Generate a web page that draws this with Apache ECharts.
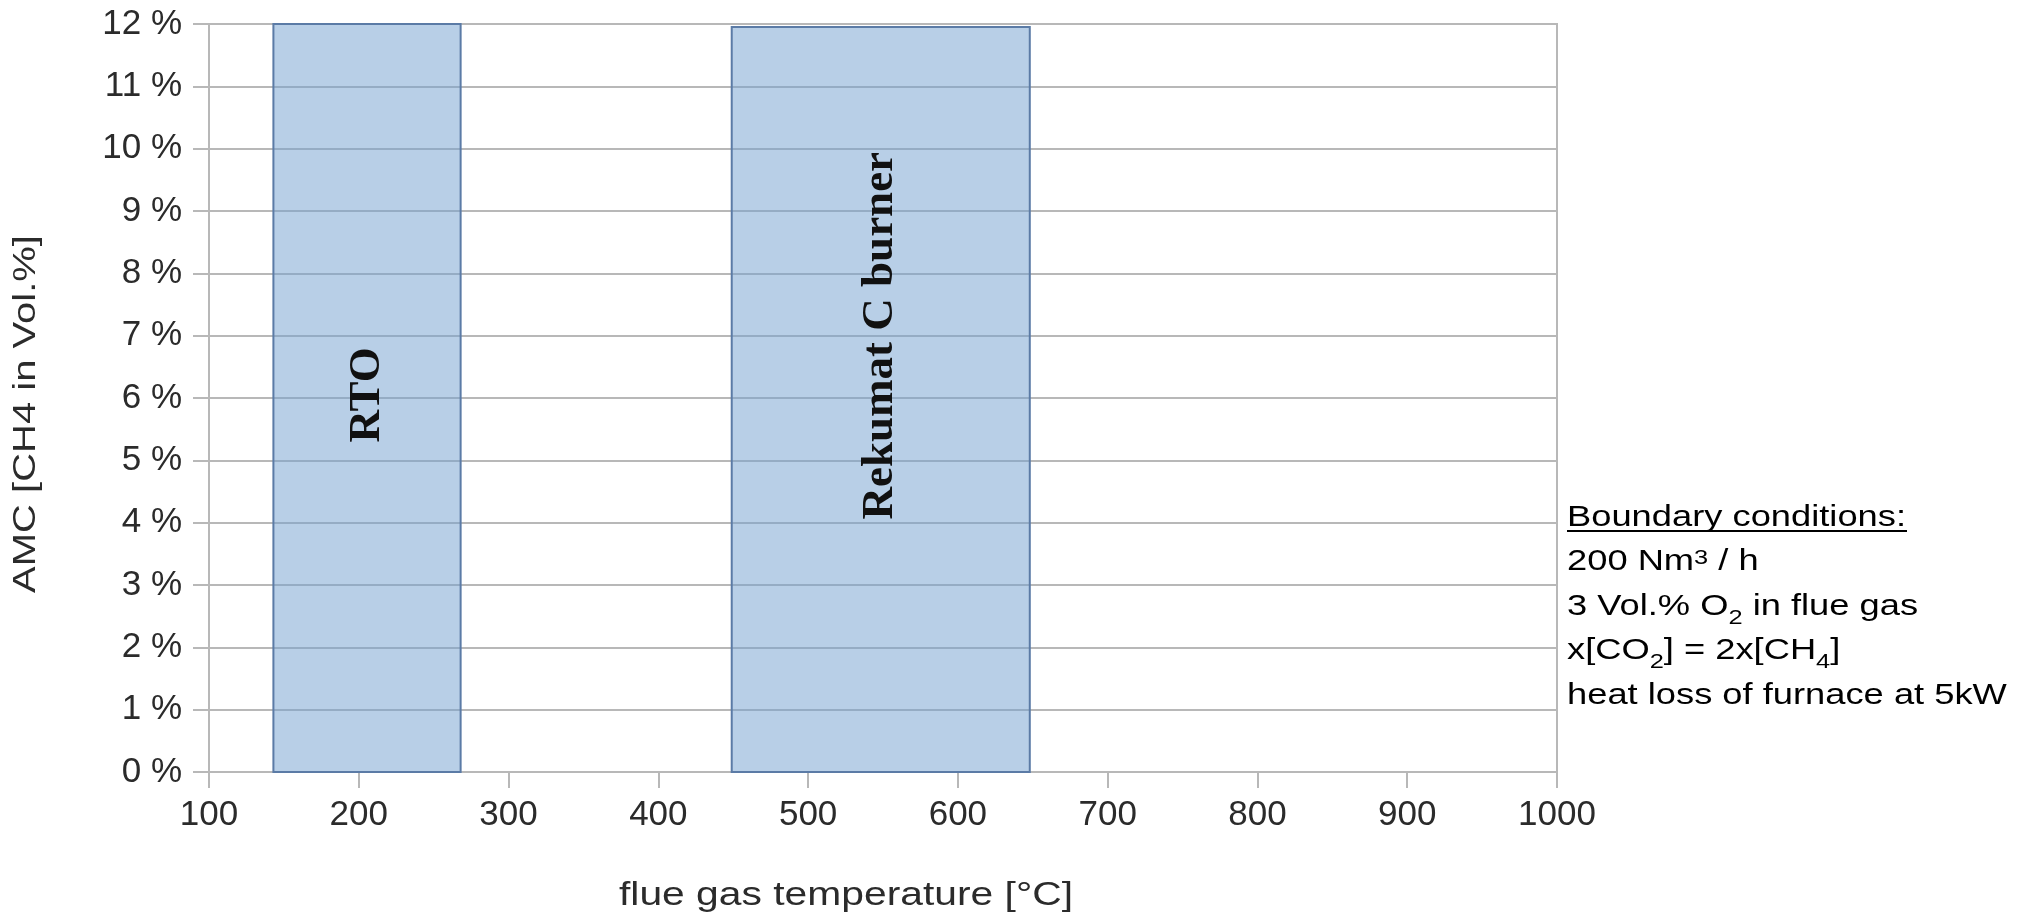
<!DOCTYPE html>
<html>
<head>
<meta charset="utf-8">
<script src="https://cdn.jsdelivr.net/npm/echarts@6/dist/echarts.min.js"></script>
<style>
html,body{margin:0;padding:0;background:#fff;}
#chart{width:2036px;height:916px;}
</style>
</head>
<body>
<div id="chart"></div>
<script>
// ---- data ----
const categories = ['RTO', 'Rekumat C burner'];
const xStart = [143, 449];       // flue gas temperature range start [°C]
const xEnd = [268, 648];         // flue gas temperature range end [°C]
const amcTop = [12, 11.95];      // AMC upper value [Vol.%]
const xTicks = [100, 200, 300, 400, 500, 600, 700, 800, 900, 1000];
const yTickLabels = ['0 %','1 %','2 %','3 %','4 %','5 %','6 %','7 %','8 %','9 %','10 %','11 %','12 %'];
const xAxisName = 'flue gas temperature [°C]';
const yAxisName = 'AMC [CH4 in Vol.%]';
const boundaryTitle = 'Boundary conditions:';

// ---- chart ----
const labelLevel = { 'RTO': 6.05, 'Rekumat C burner': 7.0 };
const gridColor = '#b8b8b8';
const textColor = '#2b2b2b';
const sans = 'Liberation Sans, Arial, sans-serif';

const chart = echarts.init(document.getElementById('chart'), null, { renderer: 'canvas' });

const seriesData = categories.map((c, i) => [xStart[i], xEnd[i], amcTop[i], c]);

const option = {
  backgroundColor: '#ffffff',
  animation: false,
  grid: {
    left: 209, right: 479, top: 24, bottom: 144,
    show: true, borderColor: gridColor, borderWidth: 2, backgroundColor: 'transparent'
  },
  xAxis: {
    type: 'value',
    min: xTicks[0], max: xTicks[xTicks.length - 1], interval: 100,
    axisLine: { show: true, lineStyle: { color: gridColor, width: 2 } },
    axisTick: { show: true, length: 16, lineStyle: { color: gridColor, width: 2 } },
    axisLabel: { fontFamily: sans, fontSize: 35, color: textColor, margin: 26,
      formatter: v => (xTicks.indexOf(v) >= 0 ? String(v) : '') },
    splitLine: { show: false }
  },
  yAxis: {
    type: 'value',
    min: 0, max: 12, interval: 1,
    axisLine: { show: true, lineStyle: { color: gridColor, width: 2 } },
    axisTick: { show: true, length: 16, lineStyle: { color: gridColor, width: 2 } },
    axisLabel: { fontFamily: sans, fontSize: 35, color: textColor, margin: 27,
      formatter: v => yTickLabels[Math.round(v)] },
    splitLine: { show: true, lineStyle: { color: gridColor, width: 2 } }
  },
  series: [{
    type: 'custom',
    z: 3,
    data: seriesData,
    encode: { x: [0, 1], y: 2 },
    renderItem: function (params, api) {
      const x0 = api.value(0), x1 = api.value(1), top = api.value(2);
      const name = categories[params.dataIndex];
      const p0 = api.coord([x0, 0]);
      const p1 = api.coord([x1, top]);
      const mid = api.coord([(x0 + x1) / 2, labelLevel[name]]);
      return {
        type: 'group',
        children: [{
          type: 'rect',
          shape: { x: p0[0], y: p1[1], width: p1[0] - p0[0], height: p0[1] - p1[1] },
          style: { fill: 'rgba(114,159,207,0.5)', stroke: '#5b7ba6', lineWidth: 2 }
        }, {
          type: 'text',
          x: mid[0], y: mid[1],
          rotation: Math.PI / 2,
          style: {
            text: name,
            fontFamily: 'Liberation Serif, Times New Roman, serif',
            fontWeight: 'bold',
            fontSize: 45,
            fill: '#111',
            align: 'center',
            verticalAlign: 'middle'
          }
        }]
      };
    }
  }],
  graphic: [{
    // x axis name
    type: 'text',
    x: 846, y: 896,
    scaleX: 1.2,
    style: {
      text: xAxisName, fontFamily: sans, fontSize: 34, fill: textColor,
      align: 'center', verticalAlign: 'middle'
    }
  }, {
    // y axis name
    type: 'text',
    x: 26, y: 414,
    rotation: Math.PI / 2,
    scaleX: 1.25,
    style: {
      text: yAxisName, fontFamily: sans, fontSize: 32, fill: textColor,
      align: 'center', verticalAlign: 'middle'
    }
  }, {
    type: 'text',
    x: 1567,
    y: 495,
    scaleX: 1.21,
    style: {
      text: '{n|' + boundaryTitle + '}\n' +
            '{n|200 Nm}{sup|3}{n| / h}\n' +
            '{n|3 Vol.% O}{sub|2}{n| in flue gas}\n' +
            '{n|x[CO}{sub|2}{n|] = 2x[CH}{sub|4}{n|]}\n' +
            '{n|heat loss of furnace at 5kW}',
      fill: '#000',
      fontFamily: sans,
      fontSize: 30,
      lineHeight: 44.5,
      rich: {
        n: { fontFamily: sans, fontSize: 30, lineHeight: 44.5, fill: '#000', verticalAlign: 'middle' },
        sub: { fontFamily: sans, fontSize: 21, lineHeight: 44.5, fill: '#000', verticalAlign: 'bottom' },
        sup: { fontFamily: sans, fontSize: 21, lineHeight: 44.5, fill: '#000', verticalAlign: 'top', padding: [8, 0, 0, 0] }
      }
    }
  }, {
    type: 'line',
    shape: { x1: 1567, y1: 531, x2: 1907, y2: 531 },
    style: { stroke: '#000', lineWidth: 2 }
  }]
};

chart.setOption(option);
</script>
</body>
</html>
